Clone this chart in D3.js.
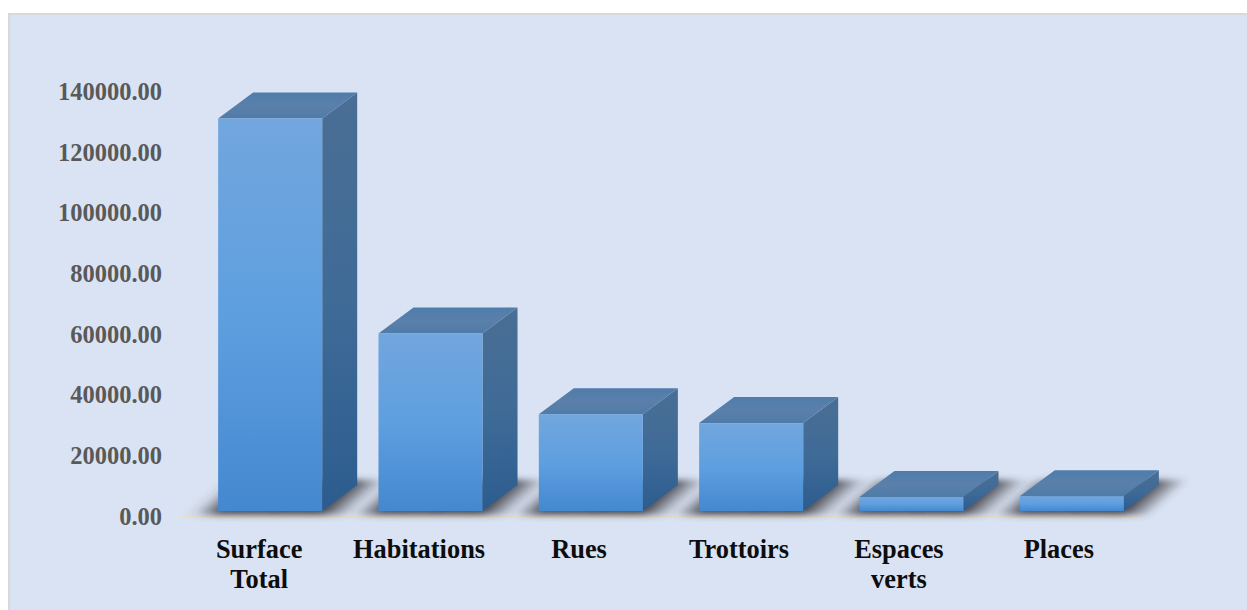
<!DOCTYPE html>
<html><head><meta charset="utf-8"><script src="https://cdn.jsdelivr.net/npm/d3@7"></script>
<style>html,body{margin:0;background:#fff}svg{display:block}</style></head><body><div id="c"></div>
<script>
const categories=[["Surface","Total"],["Habitations"],["Rues"],["Trottoirs"],["Espaces","verts"],["Places"]];
const values=[129300,58500,31900,28950,4600,4900];
const tickValues=[0,20000,40000,60000,80000,100000,120000,140000];
const W=1247,H=610;
const svg=d3.select("#c").append("svg").attr("width",W).attr("height",H);
const defs=svg.append("defs");
const grad=(id,stops)=>{const g=defs.append("linearGradient").attr("id",id).attr("x1",0).attr("y1",0).attr("x2",0).attr("y2",1);
 stops.forEach(([o,c])=>g.append("stop").attr("offset",o).attr("stop-color",c));};
grad("front",[[0,"#72a6de"],[.5,"#5e9fdf"],[1,"#4488cf"]]);
grad("side",[[0,"#4a6e94"],[.5,"#3f6b97"],[1,"#2c5c8f"]]);
grad("top",[[0,"#4f7cab"],[.5,"#5a80aa"],[1,"#507ba8"]]);
const sg=defs.append("linearGradient").attr("id","shadow").attr("x1",0).attr("y1",0).attr("x2",1).attr("y2",0)
 .attr("gradientTransform","matrix(1 0 -0.19 1 0.19 0)");
[[0,0],[.05,.08],[.17,.85],[.66,.9],[.74,.45],[.82,0]].forEach(([o,a])=>sg.append("stop").attr("offset",o).attr("stop-color","#37373d").attr("stop-opacity",a));
defs.append("filter").attr("id","blur").attr("x","-20%").attr("y","-50%").attr("width","140%").attr("height","200%")
 .append("feGaussianBlur").attr("stdDeviation",3);
svg.append("rect").attr("x",0).attr("y",0).attr("width",W).attr("height",H).attr("fill","#fff");
svg.append("rect").attr("x",9).attr("y",14).attr("width",W).attr("height",H).attr("fill","#dae3f3").attr("stroke","#d9d9d9").attr("stroke-width",2);

const y=d3.scaleLinear().domain([0,140000]).range([516,91]);
const x=d3.scaleBand().domain(d3.range(categories.length)).range([190,1152]).paddingInner(.351).paddingOuter(.1755);
const dx=35,dy=26,lift=5;

const yAxis=d3.axisLeft(y).tickValues(tickValues).tickFormat(d3.format(".2f")).tickSize(0).tickPadding(0);
const ga=svg.append("g").attr("transform","translate(162,0.5)").call(yAxis);
ga.select(".domain").remove();
ga.selectAll("text").attr("font-family","Liberation Serif").attr("font-weight","bold").attr("font-size",24.5).attr("fill","#595959");

svg.append("line").attr("x1",179).attr("x2",1141).attr("y1",y(0)+.5).attr("y2",y(0)+.5).attr("stroke","#e8dfc8").attr("stroke-width",1);

// shadows on the floor, under every bar
svg.append("g").selectAll("path").data(values).join("path").attr("filter","url(#blur)").attr("fill","url(#shadow)")
 .attr("d",(d,i)=>{const l=x(i),r=l+x.bandwidth(),b=y(0)-1,t=y(0)-36;
  return `M${l-36},${b}L${r+26},${b}L${r+64},${t}L${l+2},${t}Z`;});

const fy=d=>y(d)-lift, base=y(0)-lift;
const bars=svg.append("g").selectAll("g.bar").data(values).join("g").attr("class","bar");
bars.append("path").attr("fill","url(#side)").attr("d",(d,i)=>{const r=x(i)+x.bandwidth();
 return `M${r},${fy(d)}L${r+dx},${fy(d)-dy}L${r+dx},${base-dy}L${r},${base}Z`;});
bars.append("path").attr("fill","url(#top)").attr("d",(d,i)=>{const l=x(i),r=l+x.bandwidth();
 return `M${l},${fy(d)}L${l+dx},${fy(d)-dy}L${r+dx},${fy(d)-dy}L${r},${fy(d)}Z`;});
bars.append("rect").attr("fill","url(#front)").attr("x",(d,i)=>x(i)).attr("width",x.bandwidth())
 .attr("y",d=>fy(d)).attr("height",d=>base-fy(d));

const lab=svg.selectAll("text.cat").data(categories).join("text").attr("class","cat")
 .attr("font-family","Liberation Serif").attr("font-weight","bold").attr("font-size",26.4).attr("fill","#0d0d0d")
 .attr("text-anchor","middle");
lab.each(function(c,i){d3.select(this).selectAll("tspan").data(c).join("tspan")
 .attr("x",x(i)+x.bandwidth()/2-11-.4*i).attr("y",(t,j)=>558+j*30).text(t=>t);});
</script></body></html>
